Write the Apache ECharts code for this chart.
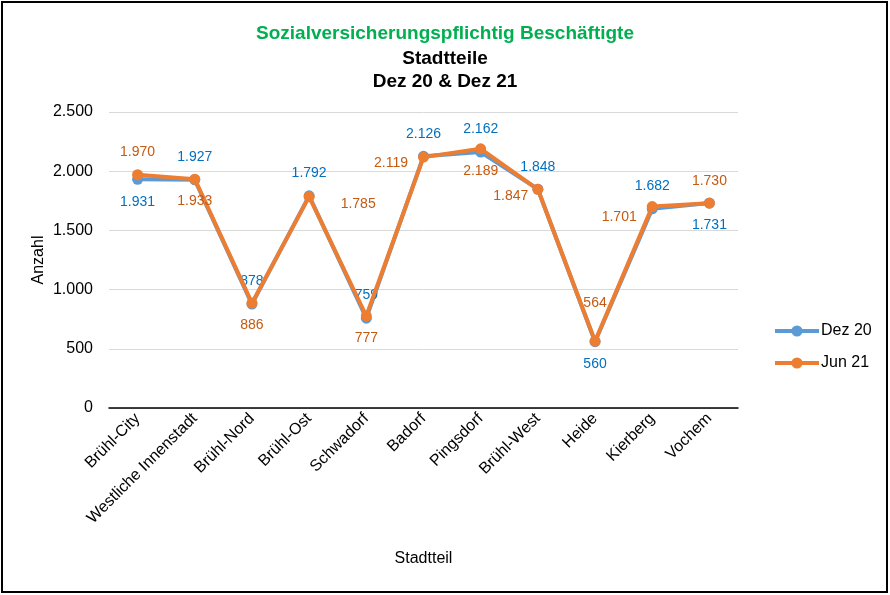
<!DOCTYPE html>
<html><head><meta charset="utf-8">
<script src="https://cdn.jsdelivr.net/npm/echarts@6/dist/echarts.min.js"></script>
<style>html,body{margin:0;padding:0;background:#fff}#c{width:890px;height:595px}</style>
</head><body><div id="c"></div>
<script>
const categories = ['Brühl-City','Westliche Innenstadt','Brühl-Nord','Brühl-Ost','Schwadorf','Badorf','Pingsdorf','Brühl-West','Heide','Kierberg','Vochem'];
const dez20 = [1931,1927,878,1792,759,2126,2162,1848,560,1682,1731];
const jun21 = [1970,1933,886,1785,777,2119,2189,1847,564,1701,1730];
const yTicks = [0,500,1000,1500,2000,2500];

// label placement (style only)
const dezPos = ['bottom','top','top','top','top','top','top','top','bottom','top','bottom'];
const junPos = ['top','bottom','bottom','right','bottom','left','bottom','left','top','left','top'];

const FONT = 'Liberation Sans, Arial, sans-serif';
function fmt(v){ return v >= 1000 ? Math.floor(v/1000) + '.' + String(v%1000).padStart(3,'0') : String(v); }

function build(vals, pos){
  return vals.map((v,i)=>{
    const p = pos[i];
    const lab = {show:true, position:p, distance: p==='top'||p==='bottom' ? 10 : 6};
    return {value:v, label:lab};
  });
}
const dezData = build(dez20, dezPos);
const junData = build(jun21, junPos);
// fine adjustments
junData[3].label.distance = 26; junData[3].label.offset=[0,7];
junData[5].label.distance = 10; junData[5].label.offset=[0,6];
junData[7].label.distance = 4; junData[7].label.offset=[0,7];
junData[9].label.distance = 10; junData[9].label.offset=[0,11];
junData[8].label.distance = 26;

const chart = echarts.init(document.getElementById('c'), null, {renderer:'canvas'});
chart.setOption({
  animation:false,
  backgroundColor:'#fff',
  textStyle:{fontFamily:FONT},
  title:[
    {text:'Sozialversicherungspflichtig Beschäftigte', left:'center', top:19,
     textStyle:{fontFamily:FONT, fontSize:19, fontWeight:'bold', color:'#00b050'}},
    {text:'Stadtteile\nDez 20 & Dez 21', left:'center', top:42,
     textStyle:{fontFamily:FONT, fontSize:19, fontWeight:'bold', color:'#000', lineHeight:23}}
  ],
  graphic:[{type:'rect', shape:{x:2,y:2,width:885,height:590}, style:{fill:'none', stroke:'#000', lineWidth:2}, silent:true}],
  legend:{orient:'vertical', left:768, top:318, itemWidth:44, itemHeight:14, itemGap:16,
    lineStyle:{width:4},
    textStyle:{fontFamily:FONT, fontSize:16, color:'#000', padding:[0,0,0,-3]},
    data:['Dez 20','Jun 21']},
  grid:{left:109, right:152, top:112, bottom:187},
  xAxis:{type:'category', data:categories, boundaryGap:true,
    name:'Stadtteil', nameLocation:'middle', nameGap:143,
    nameTextStyle:{fontFamily:FONT, fontSize:16, color:'#000'},
    axisLine:{lineStyle:{color:'#000', width:1.5}}, axisTick:{show:false},
    axisLabel:{rotate:45, fontFamily:FONT, fontSize:16, color:'#000', margin:8, interval:0}},
  yAxis:{type:'value', min:yTicks[0], max:yTicks[yTicks.length-1], interval:500,
    name:'Anzahl', nameLocation:'middle', nameGap:62, nameRotate:90, nameMoveOverlap:false,
    nameTextStyle:{fontFamily:FONT, fontSize:16, color:'#000'},
    axisLine:{show:false}, axisTick:{show:false},
    splitLine:{lineStyle:{color:'#d9d9d9', width:1}},
    axisLabel:{fontFamily:FONT, fontSize:16, color:'#000', margin:16, formatter:fmt}},
  series:[
    {name:'Dez 20', type:'line', data:dezData, symbol:'circle', symbolSize:11,
     itemStyle:{color:'#5b9bd5'}, lineStyle:{color:'#5b9bd5', width:4},
     label:{fontFamily:FONT, fontSize:14, color:'#0070c0', formatter:p=>fmt(p.value)}, z:2},
    {name:'Jun 21', type:'line', data:junData, symbol:'circle', symbolSize:11,
     itemStyle:{color:'#ed7d31'}, lineStyle:{color:'#ed7d31', width:4},
     label:{fontFamily:FONT, fontSize:14, color:'#c55a11', formatter:p=>fmt(p.value)}, z:3}
  ]
});
</script></body></html>
